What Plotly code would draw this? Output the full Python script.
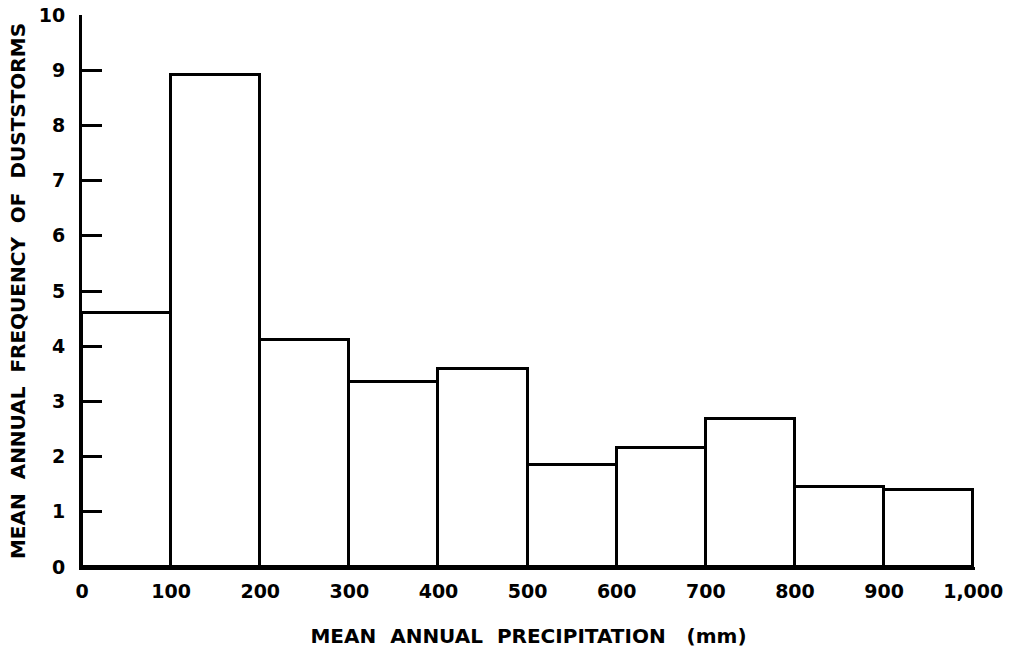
import plotly.graph_objects as go

# Precipitation classes (mm) and mean annual duststorm frequency per class
bin_left = [0, 100, 200, 300, 400, 500, 600, 700, 800, 900]
bin_width = 100
frequency = [4.61, 8.91, 4.12, 3.36, 3.59, 1.85, 2.16, 2.68, 1.45, 1.40]

x_tickvals = [0, 100, 200, 300, 400, 500, 600, 700, 800, 900, 1000]
x_ticktext = ["0", "100", "200", "300", "400", "500", "600", "700", "800", "900", "1,000"]
y_tickvals = list(range(0, 11))

FONT = "DejaVu Sans"
NB = "\u00a0"

fig = go.Figure()
fig.add_trace(go.Bar(
    x=[b + bin_width / 2 for b in bin_left],
    y=frequency,
    width=bin_width,
    marker=dict(color="white", line=dict(color="black", width=3)),
    hoverinfo="skip",
))

fig.update_layout(
    width=1010, height=648,
    margin=dict(l=82, r=35, t=15, b=81),
    paper_bgcolor="white", plot_bgcolor="white",
    showlegend=False, bargap=0,
    font=dict(family=FONT, color="black", size=19),
)

fig.update_xaxes(
    range=[0, 1002], showgrid=False, zeroline=False, automargin=False,
    showline=True, linecolor="black", linewidth=3,
    tickvals=x_tickvals, ticktext=x_ticktext, ticks="", ticklabelstandoff=5,
    tickfont=dict(family=FONT, size=19, weight="bold"),
    title=dict(text=(NB * 2).join(["MEAN", "ANNUAL", "PRECIPITATION", NB + "(mm)"]),
               font=dict(family=FONT, size=20, weight="bold"), standoff=32),
)
fig.update_yaxes(
    range=[0, 10], showgrid=False, zeroline=False, automargin=False,
    showline=True, linecolor="black", linewidth=3,
    tickvals=y_tickvals, ticks="inside", ticklen=20, tickwidth=2.5, tickcolor="black",
    ticklabelstandoff=10,
    tickfont=dict(family=FONT, size=19, weight="bold"),
    title=dict(text=(NB * 2).join(["MEAN", "ANNUAL", "FREQUENCY", "OF", "DUSTSTORMS"]),
               font=dict(family=FONT, size=20, weight="bold"), standoff=8),
)

fig.write_html("out.html")
